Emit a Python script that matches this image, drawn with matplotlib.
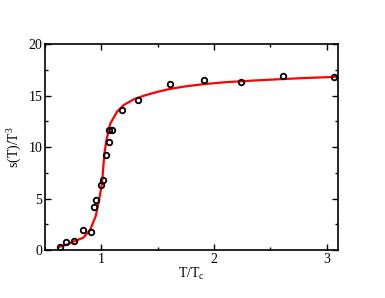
import numpy as np
import matplotlib
matplotlib.use("Agg")
import matplotlib.pyplot as plt
from matplotlib.ticker import MultipleLocator

plt.rcParams['font.family'] = 'Liberation Serif'
plt.rcParams['mathtext.fontset'] = 'custom'
plt.rcParams['mathtext.rm'] = 'Liberation Serif'
plt.rcParams['mathtext.it'] = 'Liberation Serif'
plt.rcParams['mathtext.default'] = 'regular'

# lattice points
t_pts = [0.635, 0.685, 0.757, 0.837, 0.905, 0.935, 0.95, 0.994, 1.015, 1.039,
         1.065, 1.071, 1.098, 1.181, 1.329, 1.605, 1.908, 2.24, 2.614, 3.06]
s_pts = [0.29, 0.74, 0.87, 1.94, 1.78, 4.21, 4.82, 6.34, 6.76, 9.19,
         10.49, 11.62, 11.62, 13.56, 14.56, 16.12, 16.47, 16.28, 16.86, 16.8]

# fit curve
t_fit = [0.62, 0.70, 0.76, 0.84, 0.90, 0.95, 0.98, 1.006, 1.02, 1.03, 1.045, 1.08,
         1.14, 1.20, 1.29, 1.38, 1.50, 1.61, 1.75, 1.90, 2.10, 2.33, 2.60, 2.80, 3.10]
s_fit = [0.28, 0.55, 0.85, 1.2, 1.95, 3.3, 4.9, 6.5, 8.5, 9.6, 10.7, 12.3,
         13.45, 14.1, 14.65, 15.0, 15.37, 15.65, 15.9, 16.1, 16.3, 16.45, 16.6, 16.7, 16.83]

fig = plt.figure(figsize=(3.85, 2.98), dpi=100)
ax = fig.add_axes([0.117, 0.161, 0.761, 0.691])

ax.plot(t_fit, s_fit, color='red', lw=1.6, zorder=2)
ax.plot(t_pts, s_pts, 'o', mfc='none', mec='black', ms=4, mew=1.3, zorder=3)

ax.set_xlim(0.5, 3.1)
ax.set_ylim(0, 20)
ax.xaxis.set_major_locator(MultipleLocator(1))
ax.xaxis.set_minor_locator(MultipleLocator(0.5))
ax.yaxis.set_major_locator(MultipleLocator(5))
ax.yaxis.set_minor_locator(MultipleLocator(2.5))
ax.tick_params(which='both', direction='in', top=True, right=True, labelsize=10, width=1)
ax.tick_params(which='major', length=4, pad=2)
ax.tick_params(which='minor', length=2)
for sp in ax.spines.values():
    sp.set_linewidth(1.2)

ax.set_xlabel('T/T$_c$', fontsize=10, labelpad=0)
ax.set_ylabel('s(T)/T$^3$', fontsize=10, labelpad=3)

fig.savefig('out.png', dpi=100)
